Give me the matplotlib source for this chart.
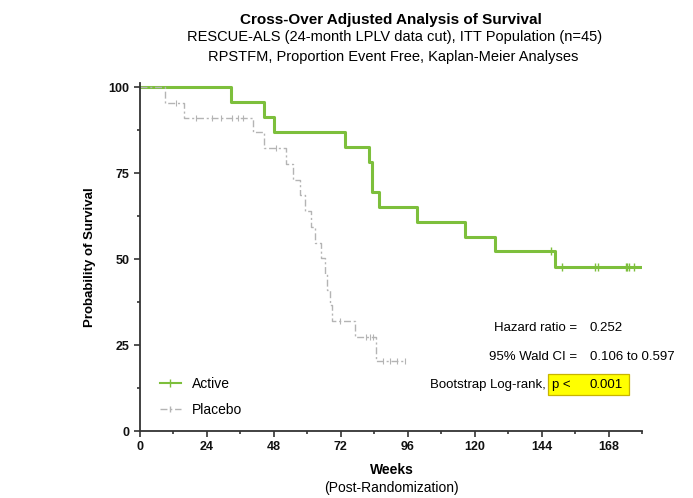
import numpy as np
import matplotlib.pyplot as plt
from matplotlib.lines import Line2D
from matplotlib.patches import Rectangle
from matplotlib.ticker import MultipleLocator

plt.rcParams['font.family'] = ['Liberation Sans', 'DejaVu Sans']

# Kaplan-Meier steps (weeks, % event free)
active_t = [0, 32.5, 44.4, 48, 73.4, 82.2, 83.3, 85.6, 99.3, 116.5, 127.3, 148.9, 180]
active_s = [100, 95.7, 91.3, 87.0, 82.6, 78.3, 69.6, 65.2, 60.9, 56.5, 52.2, 47.6, 47.6]
active_cens_t = [147.3, 151.3, 163.3, 164.1, 174.1, 174.7, 175.3, 177]
active_cens_s = [52.2, 47.6, 47.6, 47.6, 47.6, 47.6, 47.6, 47.6]

placebo_t = [0, 9, 15.8, 40.4, 44.6, 52.4, 54.8, 57.4, 59.2, 61.4, 62.9, 65, 66.3,
             67.2, 68, 68.7, 77, 84.8, 95]
placebo_s = [100, 95.5, 90.9, 86.8, 82.2, 77.6, 73.1, 68.5, 63.9, 59.4, 54.8, 50.2, 45.7,
             41.1, 36.5, 31.9, 27.4, 20.5, 20.5]
placebo_cens_t = [12.8, 20, 26, 29, 33, 35, 37, 48.8, 71.6, 81.2, 82.4, 83.5, 87, 89.6, 92, 95]
placebo_cens_s = [95.5, 90.9, 90.9, 90.9, 90.9, 90.9, 90.9, 82.2, 31.9, 27.4, 27.4, 27.4,
                  20.5, 20.5, 20.5, 20.5]

green = '#7dbf3c'
grey = '#b4b4b4'
dash = (0, (5, 2, 1.5, 2))

fig = plt.figure(figsize=(6.93, 4.98), dpi=100)
ax = fig.add_axes([0.202, 0.1345, 0.7244, 0.699])

ax.step(active_t, active_s, where='post', color=green, lw=2.2)
ax.plot(active_cens_t, active_cens_s, ls='none', marker='|', ms=6, mew=1, color=green)
ax.step(placebo_t, placebo_s, where='post', color=grey, lw=1, ls=dash)
ax.plot(placebo_cens_t, placebo_cens_s, ls='none', marker='|', ms=5, mew=0.8, color=grey)

ax.set_xlim(0, 180)
ax.set_ylim(0, 101.2)
ax.xaxis.set_major_locator(MultipleLocator(24))
ax.xaxis.set_minor_locator(MultipleLocator(12))
ax.yaxis.set_major_locator(MultipleLocator(25))
ax.yaxis.set_minor_locator(MultipleLocator(12.5))
for s in ['top', 'right']:
    ax.spines[s].set_visible(False)
for s in ['left', 'bottom']:
    ax.spines[s].set_linewidth(1.3)
    ax.spines[s].set_color('#333333')
ax.tick_params(which='major', length=4, width=1.2, labelsize=9, colors='#333333', labelcolor='#111111')
ax.tick_params(which='minor', length=2.5, width=1.2, colors='#333333')
for lab in ax.get_xticklabels() + ax.get_yticklabels():
    lab.set_fontweight('bold')

ax.set_ylabel('Probability of Survival', fontsize=9.5, fontweight='bold', labelpad=9)

fig.text(0.564, 0.960, 'Cross-Over Adjusted Analysis of Survival', ha='center', va='center',
         fontsize=11, fontweight='bold')
fig.text(0.569, 0.926, 'RESCUE-ALS (24-month LPLV data cut), ITT Population (n=45)',
         ha='center', va='center', fontsize=10.5)
fig.text(0.568, 0.886, 'RPSTFM, Proportion Event Free, Kaplan-Meier Analyses',
         ha='center', va='center', fontsize=10.5)
fig.text(0.565, 0.056, 'Weeks', ha='center', va='center', fontsize=10, fontweight='bold')
fig.text(0.565, 0.020, '(Post-Randomization)', ha='center', va='center', fontsize=10)

handles = [Line2D([], [], color=green, lw=1.5, marker='|', ms=6),
           Line2D([], [], color=grey, lw=1, ls=dash, marker='|', ms=5)]
ax.legend(handles, ['Active', 'Placebo'], loc='lower left', bbox_to_anchor=(0.015, 0.005),
          frameon=False, fontsize=10, handlelength=1.5, labelspacing=0.85, numpoints=1)

fig.text(0.833, 0.341, 'Hazard ratio =', ha='right', va='center', fontsize=9.5)
fig.text(0.851, 0.341, '0.252', ha='left', va='center', fontsize=9.5)
fig.text(0.833, 0.283, '95% Wald CI =', ha='right', va='center', fontsize=9.5)
fig.text(0.851, 0.283, '0.106 to 0.597', ha='left', va='center', fontsize=9.5)
fig.text(0.620, 0.227, 'Bootstrap Log-rank,', ha='left', va='center', fontsize=9.5)
fig.patches.append(Rectangle((0.791, 0.206), 0.117, 0.042, transform=fig.transFigure,
                             facecolor='#ffff00', edgecolor='#c8b400', lw=0.9))
fig.text(0.797, 0.227, 'p <', ha='left', va='center', fontsize=9.5)
fig.text(0.851, 0.227, '0.001', ha='left', va='center', fontsize=9.5)

fig.savefig('out.png', dpi=100)
